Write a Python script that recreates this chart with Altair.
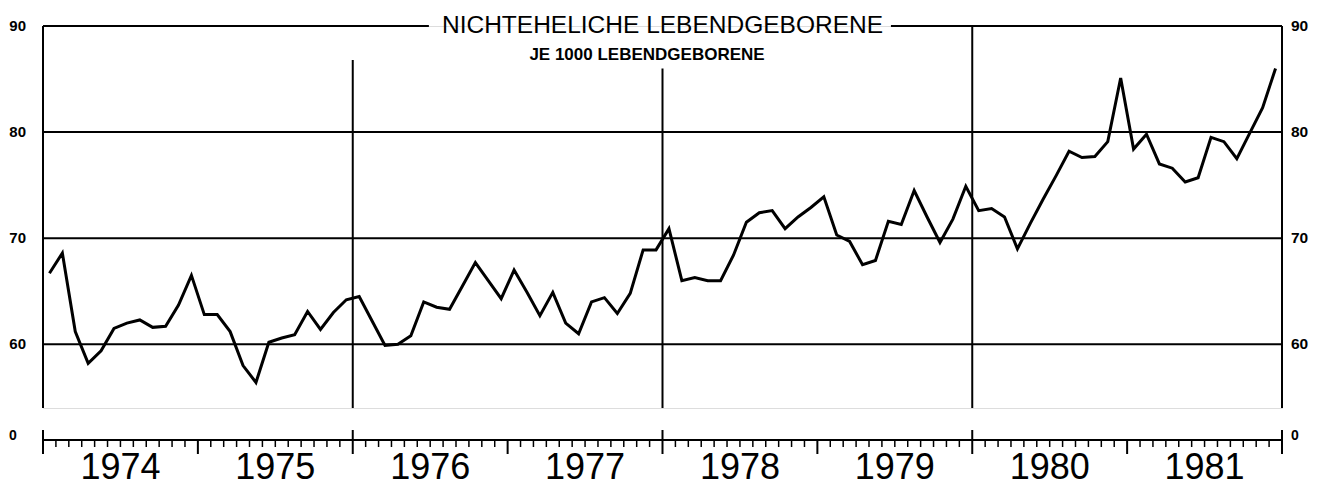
import altair as alt
import pandas as pd

# ---------------- data ----------------
years = [1974, 1975, 1976, 1977, 1978, 1979, 1980, 1981]
v1974 = [66.7, 68.6, 61.2, 58.2, 59.4, 61.5, 62.0, 62.3, 61.6, 61.7, 63.7, 66.5]
v1975 = [62.8, 62.8, 61.2, 58.0, 56.4, 60.2, 60.6, 60.9, 63.1, 61.4, 63.0, 64.2]
v1976 = [64.5, 62.2, 59.9, 60.0, 60.8, 64.0, 63.5, 63.3, 65.5, 67.7, 66.0, 64.3]
v1977 = [67.0, 64.9, 62.7, 64.9, 62.0, 61.0, 64.0, 64.4, 62.9, 64.8, 68.9, 68.9]
v1978 = [70.9, 66.0, 66.3, 66.0, 66.0, 68.4, 71.5, 72.4, 72.6, 70.9, 72.0, 72.9]
v1979 = [73.9, 70.3, 69.7, 67.5, 67.9, 71.6, 71.3, 74.5, 72.0, 69.6, 71.8, 74.9]
v1980 = [72.6, 72.8, 72.0, 69.0, 71.4, 73.7, 75.9, 78.2, 77.6, 77.7, 79.1, 85.1]
v1981 = [78.4, 79.8, 77.0, 76.6, 75.3, 75.7, 79.5, 79.1, 77.5, 79.9, 82.3, 86.0]
year_labels = ["1974", "1975", "1976", "1977", "1978", "1979", "1980", "1981"]
grid_values = [60, 70, 80]
y_tick_values = [60, 70, 80, 90]
title_text = "NICHTEHELICHE LEBENDGEBORENE"
subtitle_text = "JE 1000 LEBENDGEBORENE"

series = v1974 + v1975 + v1976 + v1977 + v1978 + v1979 + v1980 + v1981
n_months = len(series)

# ---------------- geometry ----------------
W, H = 1239, 382
Y_MIN, Y_MAX = 54, 90
FONT = "Liberation Sans"

xs = alt.Scale(domain=[0, n_months], nice=False, zero=False)
ys = alt.Scale(domain=[Y_MIN, Y_MAX], nice=False, zero=False)

df = pd.DataFrame({"t": [i + 0.5 for i in range(n_months)], "v": series})

# main data line
line = alt.Chart(df).mark_line(color="black", strokeWidth=3).encode(
    x=alt.X("t:Q", scale=xs, axis=None),
    y=alt.Y("v:Q", scale=ys, axis=None),
)

# horizontal grid lines
grid = alt.Chart(pd.DataFrame({"g": grid_values})).mark_rule(
    color="black", strokeWidth=2
).encode(
    y=alt.Y("g:Q", scale=ys, axis=None),
    x=alt.value(0),
    x2=alt.value(W),
)

# top frame line, interrupted by the title
top_df = pd.DataFrame({"x0": [0, 65.7], "x1": [29.9, n_months], "y": [Y_MAX, Y_MAX]})
top = alt.Chart(top_df).mark_rule(color="black", strokeWidth=2).encode(
    x=alt.X("x0:Q", scale=xs, axis=None),
    x2="x1:Q",
    y=alt.Y("y:Q", scale=ys, axis=None),
)

# vertical lines (frame sides and two-year separators)
vert_df = pd.DataFrame({
    "t": [0, 24, 48, 72, n_months],
    "top": [Y_MAX, 86.8, 86.0, Y_MAX, Y_MAX],
    "bot": [Y_MIN] * 5,
})
vert = alt.Chart(vert_df).mark_rule(color="black", strokeWidth=2).encode(
    x=alt.X("t:Q", scale=xs, axis=None),
    y=alt.Y("top:Q", scale=ys, axis=None),
    y2="bot:Q",
)

# titles
title = alt.Chart(pd.DataFrame({"s": [title_text], "x": [48]})).mark_text(
    font=FONT, fontSize=24.5, baseline="alphabetic", align="center", color="black"
).encode(x=alt.X("x:Q", scale=xs, axis=None), y=alt.value(7), text="s:N")

subtitle = alt.Chart(pd.DataFrame({"s": [subtitle_text], "x": [46.8]})).mark_text(
    font=FONT, fontSize=17, fontWeight="bold", baseline="alphabetic",
    align="center", color="black"
).encode(x=alt.X("x:Q", scale=xs, axis=None), y=alt.value(34), text="s:N")

# y tick labels on both sides
ylab_df = pd.DataFrame({"v": y_tick_values, "s": [str(v) for v in y_tick_values]})
ylab_left = alt.Chart(ylab_df).mark_text(
    font=FONT, fontSize=15, fontWeight="bold", align="right", baseline="middle"
).encode(y=alt.Y("v:Q", scale=ys, axis=None), x=alt.value(-17), text="s:N")
ylab_right = alt.Chart(ylab_df).mark_text(
    font=FONT, fontSize=15.5, fontWeight="bold", align="left", baseline="middle"
).encode(y=alt.Y("v:Q", scale=ys, axis=None), x=alt.value(W + 9), text="s:N")

# broken bottom axis (time axis)
BASE = 414
base_df = pd.DataFrame({"x0": [0], "x1": [n_months]})
baseline = alt.Chart(base_df).mark_rule(color="black", strokeWidth=2).encode(
    x=alt.X("x0:Q", scale=xs, axis=None), x2="x1:Q", y=alt.value(BASE)
)
month_ticks = pd.DataFrame({"t": list(range(n_months + 1))})
month_ticks["kind"] = ["even" if t % 24 == 0 else ("odd" if t % 12 == 0 else "m")
                       for t in month_ticks["t"]]
ticks_m = alt.Chart(month_ticks[month_ticks.kind == "m"]).mark_rule(
    color="black", strokeWidth=1.5
).encode(x=alt.X("t:Q", scale=xs, axis=None), y=alt.value(BASE), y2=alt.value(BASE + 7))
ticks_odd = alt.Chart(month_ticks[month_ticks.kind == "odd"]).mark_rule(
    color="black", strokeWidth=2
).encode(x=alt.X("t:Q", scale=xs, axis=None), y=alt.value(BASE), y2=alt.value(BASE + 14))
ticks_even = alt.Chart(month_ticks[month_ticks.kind == "even"]).mark_rule(
    color="black", strokeWidth=2
).encode(x=alt.X("t:Q", scale=xs, axis=None), y=alt.value(BASE - 10), y2=alt.value(BASE + 14))

zero_df = pd.DataFrame({"s": ["0"]})
zero_left = alt.Chart(zero_df).mark_text(
    font=FONT, fontSize=14, fontWeight="bold", align="left", baseline="middle"
).encode(x=alt.value(-34), y=alt.value(BASE - 4), text="s:N")
zero_right = alt.Chart(zero_df).mark_text(
    font=FONT, fontSize=14, fontWeight="bold", align="left", baseline="middle"
).encode(x=alt.value(W + 9), y=alt.value(BASE - 4), text="s:N")

yl_df = pd.DataFrame({"s": year_labels, "x": [i * 12 + 6 for i in range(len(years))]})
year_text = alt.Chart(yl_df).mark_text(
    font=FONT, fontSize=36, align="center", baseline="alphabetic", color="black"
).encode(x=alt.X("x:Q", scale=xs, axis=None), y=alt.value(453), text="s:N")

chart = alt.layer(
    grid, top, vert, line, title, subtitle, ylab_left, ylab_right,
    baseline, ticks_m, ticks_odd, ticks_even, zero_left, zero_right, year_text,
).properties(
    width=W, height=H,
    autosize=alt.AutoSizeParams(type="none"),
    padding={"left": 35, "top": 18, "right": 44, "bottom": 80},
).configure_view(stroke=None).configure(background="white")

chart.save("out.html", embed_options={"renderer": "svg", "actions": False})
